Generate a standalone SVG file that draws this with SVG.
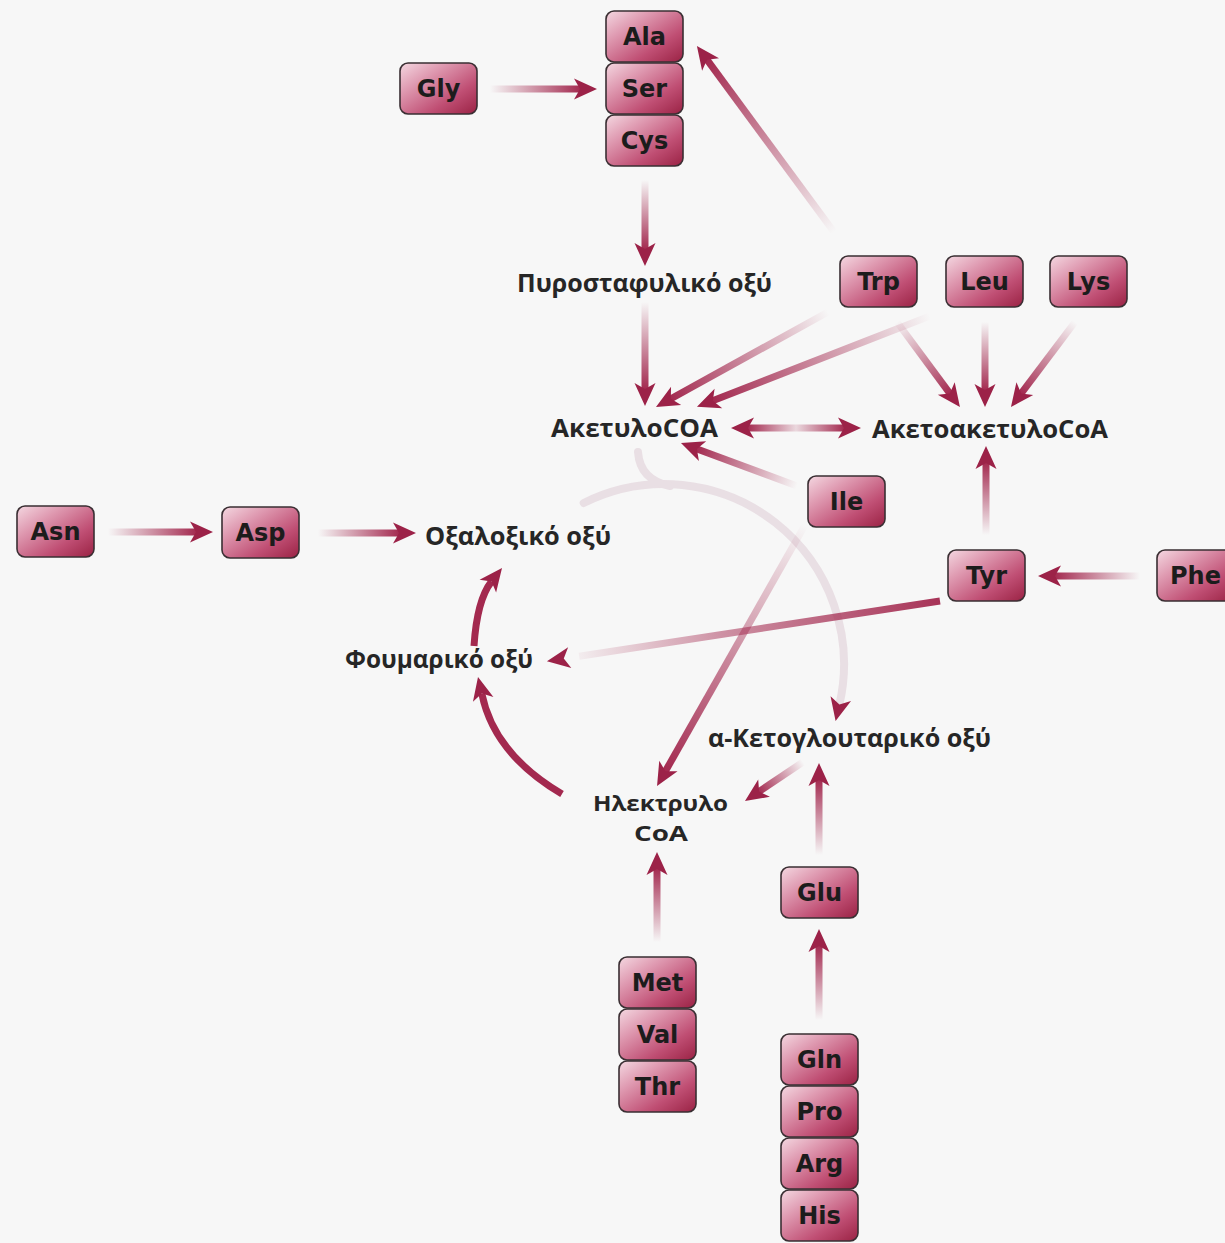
<svg xmlns="http://www.w3.org/2000/svg" xmlns:xlink="http://www.w3.org/1999/xlink" width="1225" height="1243" viewBox="0 0 1225 1243">
  <defs>
    <style>
      .box rect { fill: url(#boxFill); stroke: #3a2f33; stroke-width: 1.6; }
      .box text { font-family: "DejaVu Sans", "Liberation Sans", sans-serif; font-weight: bold; font-size: 24px; fill: #1c1c1c; text-anchor: middle; }
      .lbl { font-family: "Open Sans", "Noto Sans", "DejaVu Sans", sans-serif; font-weight: bold; font-size: 25px; fill: #262626; }
      .lbl2 { font-family: "Open Sans", "Noto Sans", "DejaVu Sans", sans-serif; font-weight: bold; font-size: 22px; fill: #262626; }
      .shaft { fill: url(#fade); }
      .curve { fill: none; stroke: #a3294f; stroke-width: 7; }
      .cycle { fill: none; stroke: #e9dfe4; stroke-width: 8; stroke-linecap: round; }
    </style>
    <linearGradient id="boxFill" x1="0" y1="0" x2="1" y2="1">
      <stop offset="0" stop-color="#f4d8e1"/>
      <stop offset="0.3" stop-color="#df9ab1"/>
      <stop offset="0.68" stop-color="#c04f74"/>
      <stop offset="1" stop-color="#9a2244"/>
    </linearGradient>
    <!-- shaft fades in from tail to head -->
    <linearGradient id="fade">
      <stop offset="0" stop-color="#a3294f" stop-opacity="0"/>
      <stop offset="0.5" stop-color="#a3294f" stop-opacity="0.5"/>
      <stop offset="1" stop-color="#a3294f" stop-opacity="1"/>
    </linearGradient>
    <linearGradient id="fadeBack">
      <stop offset="0" stop-color="#a3294f" stop-opacity="0.95"/>
      <stop offset="0.6" stop-color="#a3294f" stop-opacity="0.5"/>
      <stop offset="1" stop-color="#a3294f" stop-opacity="0.05"/>
    </linearGradient>
    <linearGradient id="fadeBoth">
      <stop offset="0" stop-color="#a3294f" stop-opacity="1"/>
      <stop offset="0.5" stop-color="#a3294f" stop-opacity="0.15"/>
      <stop offset="1" stop-color="#a3294f" stop-opacity="1"/>
    </linearGradient>
    <!-- notched arrowhead, tip at origin pointing +x -->
    <path id="head" d="M0,0 L-23,-10.5 L-17,0 L-23,10.5 Z" fill="#9c2248"/>
  </defs>

  <rect width="1225" height="1243" fill="#f7f7f7"/>

  <!-- citric acid cycle ring (faded) -->
  <g id="cycle">
    <path class="cycle" d="M583.7,503 A180,180 0 0 1 839.4,704.5"/>
    <path class="cycle" d="M638,452 Q640,480 670,486"/>
  </g>

  <g id="connectors">
    <!-- Gly -> Ser -->
    <g transform="translate(490 89)"><rect class="shaft" x="0" y="-3.5" width="91" height="7"/><use href="#head" x="107"/></g>
    <!-- Cys -> pyruvate -->
    <g transform="translate(645 180) rotate(90)"><rect class="shaft" x="0" y="-3.5" width="70" height="7"/><use href="#head" x="86"/></g>
    <!-- pyruvate -> acetyl-CoA -->
    <g transform="translate(645 302) rotate(90)"><rect class="shaft" x="0" y="-3.5" width="88" height="7"/><use href="#head" x="104"/></g>
    <!-- Trp -> Ala -->
    <g transform="translate(834 232) rotate(-126.4)"><rect class="shaft" x="0" y="-3.5" width="215" height="7"/><use href="#head" x="231"/></g>
    <!-- Trp -> acetyl-CoA -->
    <g transform="translate(828 312) rotate(151.1)"><rect class="shaft" x="0" y="-3.5" width="180.5" height="7"/><use href="#head" x="196.5"/></g>
    <g transform="translate(930 316) rotate(158.7)"><rect class="shaft" x="0" y="-3.5" width="234" height="7"/><use href="#head" x="250.1"/></g>
    <!-- Trp -> acetoacetyl-CoA -->
    <g transform="translate(897 322) rotate(53.5)"><rect class="shaft" x="0" y="-3.5" width="90" height="7"/><use href="#head" x="105.8"/></g>
    <!-- Leu -> acetoacetyl-CoA -->
    <g transform="translate(985 322) rotate(90)"><rect class="shaft" x="0" y="-3.5" width="69" height="7"/><use href="#head" x="85"/></g>
    <!-- Lys -> acetoacetyl-CoA -->
    <g transform="translate(1075 322) rotate(127)"><rect class="shaft" x="0" y="-3.5" width="90" height="7"/><use href="#head" x="106.4"/></g>
    <!-- acetyl-CoA <-> acetoacetyl-CoA -->
    <g>
      <rect x="747" y="424.5" width="98" height="7" fill="url(#fadeBoth)"/>
      <use href="#head" transform="translate(731 428) rotate(180)"/>
      <use href="#head" transform="translate(861 428)"/>
    </g>
    <!-- Ile -> acetyl-CoA -->
    <g transform="translate(797 486) rotate(-159.7)"><rect class="shaft" x="0" y="-3.5" width="108" height="7"/><use href="#head" x="123.7"/></g>
    <!-- Tyr -> acetoacetyl-CoA -->
    <g transform="translate(986 535) rotate(-90)"><rect class="shaft" x="0" y="-3.5" width="73" height="7"/><use href="#head" x="89"/></g>
    <!-- Phe -> Tyr -->
    <g transform="translate(1140 576) rotate(180)"><rect class="shaft" x="0" y="-3.5" width="86" height="7"/><use href="#head" x="102"/></g>
    <!-- Tyr -> fumarate -->
    <g transform="translate(940 601) rotate(171.3)"><rect x="0" y="-3.5" width="365" height="7" fill="url(#fadeBack)"/><use href="#head" x="397.6"/></g>
    <!-- Asn -> Asp -->
    <g transform="translate(108 532)"><rect class="shaft" x="0" y="-3.5" width="89" height="7"/><use href="#head" x="105"/></g>
    <!-- Asp -> oxaloacetate -->
    <g transform="translate(318 533)"><rect class="shaft" x="0" y="-3.5" width="82" height="7"/><use href="#head" x="98"/></g>
    <!-- cycle chord -> succinyl-CoA -->
    <g transform="translate(805 525) rotate(119.55)"><rect class="shaft" x="0" y="-3.5" width="284" height="7"/><use href="#head" x="300"/></g>
    <!-- alpha-ketoglutarate -> succinyl-CoA -->
    <g transform="translate(803 762) rotate(146.1)"><rect class="shaft" x="0" y="-3.5" width="54" height="7"/><use href="#head" x="69.9"/></g>
    <!-- Glu -> alpha-ketoglutarate -->
    <g transform="translate(819 855) rotate(-90)"><rect class="shaft" x="0" y="-3.5" width="76" height="7"/><use href="#head" x="92"/></g>
    <!-- Met/Val/Thr -> succinyl-CoA -->
    <g transform="translate(657 942) rotate(-90)"><rect class="shaft" x="0" y="-3.5" width="74" height="7"/><use href="#head" x="90"/></g>
    <!-- Gln/Pro/Arg/His -> Glu -->
    <g transform="translate(819 1020) rotate(-90)"><rect class="shaft" x="0" y="-3.5" width="75" height="7"/><use href="#head" x="91"/></g>
    <!-- cycle steps -->
    <path class="curve" d="M474,646 Q477,600 491.5,581.5"/>
    <use href="#head" transform="translate(502 568) rotate(-52)"/>
    <path class="curve" d="M562,794 Q494,754 481.8,693.6"/>
    <use href="#head" transform="translate(478 677) rotate(-103)"/>
    <use href="#head" transform="translate(835.6 721) rotate(103)"/>
  </g>

  <!-- amino acid nodes -->
  <g id="ala" class="box"><rect x="606" y="11" width="77" height="51" rx="8"/><text x="644.5" y="45">Ala</text></g>
  <g id="ser" class="box"><rect x="606" y="63" width="77" height="51" rx="8"/><text x="644.5" y="97">Ser</text></g>
  <g id="cys" class="box"><rect x="606" y="115" width="77" height="51" rx="8"/><text x="644.5" y="149">Cys</text></g>
  <g id="gly" class="box"><rect x="400" y="63" width="77" height="51" rx="8"/><text x="438.5" y="97">Gly</text></g>
  <g id="trp" class="box"><rect x="840" y="256" width="77" height="51" rx="8"/><text x="878.5" y="290">Trp</text></g>
  <g id="leu" class="box"><rect x="946" y="256" width="77" height="51" rx="8"/><text x="984.5" y="290">Leu</text></g>
  <g id="lys" class="box"><rect x="1050" y="256" width="77" height="51" rx="8"/><text x="1088.5" y="290">Lys</text></g>
  <g id="ile" class="box"><rect x="808" y="476" width="77" height="51" rx="8"/><text x="846.5" y="510">Ile</text></g>
  <g id="asn" class="box"><rect x="17" y="506" width="77" height="51" rx="8"/><text x="55.5" y="540">Asn</text></g>
  <g id="asp" class="box"><rect x="222" y="507" width="77" height="51" rx="8"/><text x="260.5" y="541">Asp</text></g>
  <g id="tyr" class="box"><rect x="948" y="550" width="77" height="51" rx="8"/><text x="986.5" y="584">Tyr</text></g>
  <g id="phe" class="box"><rect x="1157" y="550" width="77" height="51" rx="8"/><text x="1195.5" y="584">Phe</text></g>
  <g id="glu" class="box"><rect x="781" y="867" width="77" height="51" rx="8"/><text x="819.5" y="901">Glu</text></g>
  <g id="met" class="box"><rect x="619" y="957" width="77" height="51" rx="8"/><text x="657.5" y="991">Met</text></g>
  <g id="val" class="box"><rect x="619" y="1009" width="77" height="51" rx="8"/><text x="657.5" y="1043">Val</text></g>
  <g id="thr" class="box"><rect x="619" y="1061" width="77" height="51" rx="8"/><text x="657.5" y="1095">Thr</text></g>
  <g id="gln" class="box"><rect x="781" y="1034" width="77" height="51" rx="8"/><text x="819.5" y="1068">Gln</text></g>
  <g id="pro" class="box"><rect x="781" y="1086" width="77" height="51" rx="8"/><text x="819.5" y="1120">Pro</text></g>
  <g id="arg" class="box"><rect x="781" y="1138" width="77" height="51" rx="8"/><text x="819.5" y="1172">Arg</text></g>
  <g id="his" class="box"><rect x="781" y="1190" width="77" height="51" rx="8"/><text x="819.5" y="1224">His</text></g>

  <!-- metabolite labels -->
  <g id="pyruvate"><text class="lbl" x="517" y="292" textLength="255" lengthAdjust="spacingAndGlyphs">Πυροσταφυλικό οξύ</text></g>
  <g id="acetyl-coa"><text class="lbl" x="551" y="437" textLength="167" lengthAdjust="spacingAndGlyphs">ΑκετυλοCOA</text></g>
  <g id="acetoacetyl-coa"><text class="lbl" x="872" y="438" textLength="236" lengthAdjust="spacingAndGlyphs">ΑκετοακετυλοCoA</text></g>
  <g id="oxaloacetate"><text class="lbl" x="425" y="545" textLength="186" lengthAdjust="spacingAndGlyphs">Οξαλοξικό οξύ</text></g>
  <g id="fumarate"><text class="lbl" x="345" y="668" textLength="188" lengthAdjust="spacingAndGlyphs">Φουμαρικό οξύ</text></g>
  <g id="alpha-ketoglutarate"><text class="lbl" x="708" y="747" textLength="283" lengthAdjust="spacingAndGlyphs">α-Κετογλουταρικό οξύ</text></g>
  <g id="succinyl-coa">
    <text class="lbl2" x="593" y="811" textLength="135" lengthAdjust="spacingAndGlyphs">Ηλεκτρυλο</text>
    <text class="lbl2" x="634" y="841" textLength="54" lengthAdjust="spacingAndGlyphs">CoA</text>
  </g>
</svg>
